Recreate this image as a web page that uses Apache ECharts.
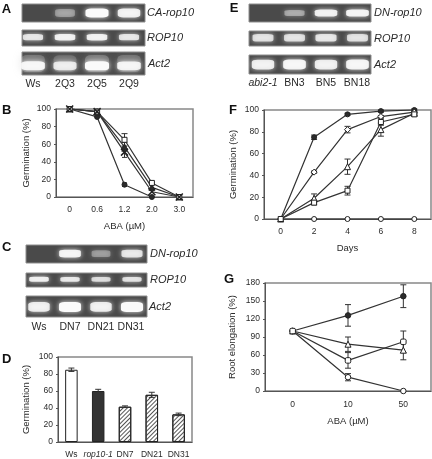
<!DOCTYPE html>
<html>
<head>
<meta charset="utf-8">
<style>html,body{margin:0;padding:0;background:#fff}#c{width:432px;height:459px;filter:blur(0.3px)}</style>
<script src="https://cdn.jsdelivr.net/npm/echarts@6/dist/echarts.min.js"></script>
</head>
<body>
<div id="c"></div>
<script>
// ---------- DATA ----------
const lanesA = ['Ws', '2Q3', '2Q5', '2Q9'];
const lanesC = ['Ws', 'DN7', 'DN21', 'DN31'];
const lanesE = ['abi2-1', 'BN3', 'BN5', 'BN18'];
const gelA1 = [0, 0.5, 1, 0.92];
const gelA2 = [0.85, 0.92, 0.92, 0.85];
const gelA3 = [0.95, 0.85, 1, 0.92];
const gelC1 = [0, 0.95, 0.48, 0.85];
const gelC2 = [0.92, 0.88, 0.82, 0.85];
const gelC3 = [0.9, 1, 0.9, 1];
const gelE1 = [0, 0.55, 0.92, 0.95];
const gelE2 = [0.82, 0.82, 0.85, 0.82];
const gelE3 = [0.9, 0.95, 0.9, 0.95];

const abaB = ['0', '0.6', '1.2', '2.0', '3.0'];
const bCircle = [100, 91, 14, 0, null];
const bTriangle = [100, 97, 57, 11, 0];
const bSquare = [100, 97, 65, 16, 0];
const bCross = [100, 97, 51, 6, 0];
const bCircleErr = [0, 0, 2, 0, 0];
const bTriangleErr = [0, 0, 5, 0, 0];
const bSquareErr = [0, 0, 7, 0, 0];
const bCrossErr = [0, 0, 6, 0, 0];

const strainsD = ['Ws', 'rop10-1', 'DN7', 'DN21', 'DN31'];
const germD = [85, 60, 41.5, 55.5, 32.5];
const germDErr = [2, 2, 1, 3, 1.5];

const daysF = ['0', '2', '4', '6', '8'];
const fCircle = [0, 75, 96, 99, 100];
const fDiamond = [0, 43, 82, 94, 98];
const fTriangle = [0, 19, 48, 82, 97];
const fSquare = [0, 15, 26, 89, 96];
const fZero = [0, 0, 0, 0, 0];
const fCircleErr = [0, 2, 1, 1, 1];
const fDiamondErr = [0, 1, 3, 1, 1];
const fTriangleErr = [0, 4, 7, 6, 1];
const fSquareErr = [0, 2, 4, 3, 1];

const abaG = ['0', '10', '50'];
const gCircle = [100, 126, 158];
const gTriangle = [100, 78, 68];
const gSquare = [100, 51, 82];
const gOpen = [100, 23, 0];
const gCircleErr = [0, 18, 19];
const gTriangleErr = [0, 12, 16];
const gSquareErr = [0, 13, 18];
const gOpenErr = [0, 6, 0];

// ---------- BUILDERS ----------
const FONT = '"Liberation Sans", Arial, sans-serif';
const INK = '#2b2b2b', EDGE = '#888888';
const grid = [], xAxis = [], yAxis = [], series = [], graphic = [];

function text(str, x, y, o) {
  graphic.push({type: 'text', x: x, y: y, silent: true, style: Object.assign({
    text: str, font: (o && o.font) || ('10.5px ' + FONT), fill: INK,
    textAlign: 'center', textVerticalAlign: 'middle'}, o && o.style)});
}

function gel(g) {
  const i = grid.length, sp = g.c[1] - g.c[0];
  grid.push({left: g.x0, top: g.y0, width: g.x1 - g.x0, height: g.y1 - g.y0, show: true,
    backgroundColor: '#4a4a4a', borderColor: '#8d8d8d', borderWidth: 1, containLabel: false});
  xAxis.push({type: 'value', gridIndex: i, show: false,
    min: (g.x0 - g.c[0]) / sp, max: (g.x1 - g.c[0]) / sp});
  yAxis.push({type: 'value', gridIndex: i, show: false, min: 0, max: 1});
  const band = (extraH, opacity, dy) => g.v.map((v, k) => ({
    value: [k, g.by + (dy || 0), v],
    symbolSize: [g.w * (0.72 + 0.28 * v), g.h * (0.75 + 0.25 * v) + extraH],
    itemStyle: {opacity: v === 0 ? 0 : opacity * Math.pow(v, 1.5)}
  }));
  const base = {type: 'scatter', xAxisIndex: i, yAxisIndex: i, symbol: 'roundRect', silent: true};
  if (g.haze) series.push(Object.assign({}, base, {data: band(g.haze, 0.3, 0.1),
    itemStyle: {color: '#cfcfcf', shadowBlur: 8, shadowColor: '#aaa'}}));
  series.push(Object.assign({}, base, {data: band(0, 1),
    itemStyle: {color: '#fafafa', shadowBlur: 5, shadowColor: 'rgba(255,255,255,0.85)'}}));
  if (g.gene) text(g.gene, g.gx, (g.y0 + g.y1) / 2 + (g.gdy || 0),
    {font: 'italic 11px ' + FONT, style: {textAlign: 'left'}});
  if (g.lanes) g.lanes.forEach((s, k) => text(s, g.c[k], g.ly,
    {font: (g.itFirst && k === 0 ? 'italic ' : '') + '10.5px ' + FONT}));
}

function axes(p, cats, o) {
  const i = grid.length;
  grid.push({left: p.x0, top: p.y0, width: p.x1 - p.x0, height: p.y1 - p.y0, show: true,
    backgroundColor: 'transparent', borderColor: EDGE, borderWidth: 1.5});
  xAxis.push({type: 'category', gridIndex: i, data: cats, name: o.xName, nameLocation: 'middle',
    nameGap: o.xGap, nameTextStyle: {fontFamily: FONT, fontSize: 9.5, color: INK},
    axisLine: {onZero: false, lineStyle: {color: '#555'}}, axisTick: {length: 2, inside: true, lineStyle: {color: '#555'}},
    splitLine: {show: false},
    axisLabel: Object.assign({interval: 0, margin: o.xMargin || 8, fontFamily: FONT, fontSize: o.xFont || 8.5, color: INK,
      hideOverlap: false}, o.xLabel)});
  yAxis.push({type: 'value', gridIndex: i, min: 0, max: o.max, interval: o.step,
    nameLocation: 'middle', nameRotate: 90, nameGap: o.yGap,
    nameTextStyle: {fontFamily: FONT, fontSize: 9.5, color: INK},
    name: o.yName || 'Germination (%)',
    axisLine: {show: true, lineStyle: {color: '#555'}}, axisTick: {show: true, length: 2, lineStyle: {color: '#555'}},
    splitLine: {show: false},
    axisLabel: {margin: 5, fontFamily: FONT, fontSize: 8.5, color: INK}});
  return i;
}

function errs(i, vals, err, cap) {
  const data = vals.map((v, k) => [k, v == null ? 0 : v, err[k]]);
  series.push({type: 'custom', xAxisIndex: i, yAxisIndex: i, silent: true, z: 3, data: data,
    encode: {x: 0, y: 1}, clip: false,
    renderItem: function (params, api) {
      const e = api.value(2);
      if (!e) return {type: 'group', children: []};
      const x = api.value(0), v = api.value(1);
      const hi = api.coord([x, v + e]), lo = api.coord([x, v - e]);
      const st = {stroke: '#333', lineWidth: 1, fill: 'none'};
      const seg = (a, b, c, d) => ({type: 'line', shape: {x1: a, y1: b, x2: c, y2: d}, style: st});
      return {type: 'group', children: [
        seg(hi[0], hi[1], lo[0], lo[1]),
        seg(hi[0] - cap, hi[1], hi[0] + cap, hi[1]),
        seg(lo[0] - cap, lo[1], lo[0] + cap, lo[1])]};
    }});
}

const CROSS = 'path://M0 0L10 10M0 10L10 0';
function line(i, vals, symbol, fill, size, err, cap) {
  if (err) errs(i, vals, err, cap);
  series.push({type: 'line', xAxisIndex: i, yAxisIndex: i, data: vals, symbol: symbol, symbolSize: size,
    showSymbol: true, silent: true, connectNulls: false, clip: false, z: 4,
    lineStyle: {color: '#333', width: 1.2},
    itemStyle: {color: fill, borderColor: '#222', borderWidth: symbol === CROSS ? 1.5 : 1}});
}

// ---------- PANEL A ----------
const LETTER = {font: 'bold 13px ' + FONT, style: {fill: '#111'}};
text('A', 6.5, 9, LETTER);
const cA = [33, 65, 97, 129];
gel({x0: 22, x1: 145, y0: 4, y1: 22, c: cA, v: gelA1, by: 0.5, w: 23, h: 9, gene: 'CA-rop10', gx: 147});
gel({x0: 22, x1: 145, y0: 30, y1: 46, c: cA, v: gelA2, by: 0.55, w: 21, h: 6.5, gene: 'ROP10', gx: 147});
gel({x0: 22, x1: 145, y0: 52, y1: 75, c: cA, v: gelA3, by: 0.4, w: 24, h: 9, haze: 8, gene: 'Act2', gx: 148, lanes: lanesA, ly: 84});

// ---------- PANEL E ----------
text('E', 234, 8, LETTER);
const cE = [263, 294.5, 326, 357];
gel({x0: 249, x1: 371, y0: 4, y1: 22, c: cE, v: gelE1, by: 0.5, w: 23, h: 7, gene: 'DN-rop10', gx: 374});
gel({x0: 249, x1: 371, y0: 31, y1: 46, c: cE, v: gelE2, by: 0.55, w: 22, h: 8, gene: 'ROP10', gx: 374});
gel({x0: 249, x1: 371, y0: 55, y1: 74, c: cE, v: gelE3, by: 0.5, w: 23, h: 10, gene: 'Act2', gx: 374, lanes: lanesE, ly: 83, itFirst: true});

// ---------- PANEL C ----------
text('C', 6.7, 247, LETTER);
const cC = [39, 70, 101, 131];
gel({x0: 26, x1: 147, y0: 245, y1: 263, c: cC, v: gelC1, by: 0.52, w: 22, h: 8, gene: 'DN-rop10', gx: 150});
gel({x0: 26, x1: 147, y0: 273, y1: 287, c: cC, v: gelC2, by: 0.55, w: 20, h: 5, gene: 'ROP10', gx: 150});
gel({x0: 26, x1: 147, y0: 296, y1: 317, c: cC, v: gelC3, by: 0.48, w: 22, h: 10, gene: 'Act2', gx: 149, lanes: lanesC, ly: 327});

// ---------- PANEL B ----------
text('B', 6.7, 110, LETTER);
const b = axes({x0: 56, x1: 193, y0: 109, y1: 197}, abaB,
  {xName: 'ABA (\u00b5M)', xGap: 24, max: 100, step: 20, yGap: 25});
line(b, bCircle, 'circle', '#2b2b2b', 5, bCircleErr, 2.5);
line(b, bTriangle, 'triangle', '#2b2b2b', 6, bTriangleErr, 3);
line(b, bSquare, 'rect', '#fff', 5, bSquareErr, 3);
line(b, bCross, CROSS, 'none', 7, bCrossErr, 2.5);

// ---------- PANEL D ----------
text('D', 6.7, 359, LETTER);
const d = axes({x0: 58, x1: 192, y0: 357, y1: 443}, strainsD, {
  xFont: 8.5, max: 100, step: 20, yGap: 27, xGap: 20,
  xLabel: {formatter: v => v === 'rop10-1' ? '{i|' + v + '}' : v,
    rich: {i: {fontStyle: 'italic', fontFamily: FONT, fontSize: 8.5, color: INK}}}});
const hatch = {color: '#555', symbol: 'rect', symbolSize: 1, dashArrayX: [1, 0], dashArrayY: [1, 1.5], rotation: -Math.PI / 4};
series.push({type: 'bar', xAxisIndex: d, yAxisIndex: d, barWidth: 12.5, silent: true,
  data: germD.map((v, k) => ({value: v, itemStyle: k === 0 ? {color: '#fff'} :
    k === 1 ? {color: '#333'} : {color: '#fff', decal: hatch}})),
  itemStyle: {borderColor: '#222', borderWidth: 1}});
errs(d, germD, germDErr, 3);

// ---------- PANEL F ----------
text('F', 233, 110, LETTER);
const f = axes({x0: 264, x1: 431, y0: 110, y1: 219}, daysF,
  {xName: 'Days', xGap: 24, max: 100, step: 20, yGap: 26});
line(f, fCircle, 'circle', '#2b2b2b', 5, fCircleErr, 3);
line(f, fZero, 'circle', '#fff', 5);
line(f, fTriangle, 'triangle', '#fff', 6, fTriangleErr, 3);
line(f, fDiamond, 'diamond', '#fff', 6, fDiamondErr, 3);
line(f, fSquare, 'rect', '#fff', 5, fSquareErr, 3);

// ---------- PANEL G ----------
text('G', 229, 279, LETTER);
const g = axes({x0: 265, x1: 431, y0: 283, y1: 391}, abaG,
  {xName: 'ABA (\u00b5M)', xGap: 25, xMargin: 9, max: 180, step: 30, yGap: 28, yName: 'Root elongation (%)'});
line(g, gCircle, 'circle', '#2b2b2b', 5.5, gCircleErr, 3);
line(g, gOpen, 'circle', '#fff', 5.5, gOpenErr, 3);
line(g, gTriangle, 'triangle', '#fff', 6, gTriangleErr, 3);
line(g, gSquare, 'roundRect', '#fff', 5.5, gSquareErr, 3);

const chart = echarts.init(document.getElementById('c'), null, {renderer: 'canvas'});
chart.setOption({animation: false, backgroundColor: '#fff', grid, xAxis, yAxis, series, graphic: {elements: graphic}});
</script>
</body>
</html>
